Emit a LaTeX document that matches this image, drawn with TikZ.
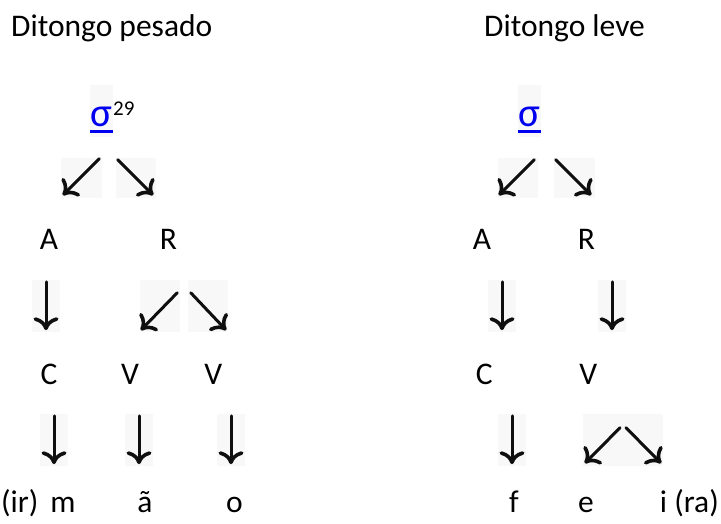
\documentclass[tikz,border=0pt]{standalone}
\usepackage{fontspec}
\setmainfont{Carlito}
\usetikzlibrary{arrows.meta,calc}
\definecolor{boxgray}{RGB}{248,248,248}
\definecolor{linkblue}{RGB}{0,0,240}
\definecolor{arrowink}{RGB}{15,15,15}
\begin{document}
\begin{tikzpicture}[x=1pt,y=-1pt,
  txt/.style={inner sep=0pt, anchor=base, font=\fontsize{31.5}{36}\selectfont},
  sig/.style={inner sep=0pt, anchor=base, text=linkblue, font=\fontsize{41}{44}\selectfont},
  supnum/.style={inner sep=0pt, anchor=base west, font=\fontsize{21}{24}\selectfont},
  abox/.style={fill=boxgray, draw=none, inner sep=0pt, minimum height=52pt},
  downbox/.style={abox, minimum width=28pt},
  diagbox/.style={abox, minimum width=40pt},
  smallbox/.style={abox, minimum width=40pt, minimum height=40pt},
  pairbox/.style={abox, minimum width=80pt},
  sigbox/.style={abox, minimum width=23pt},
  arr/.style={draw=arrowink, line width=3pt, line cap=round,
    -{Computer Modern Rightarrow[length=13pt 0,width=25pt 0,line width=3.6pt]}}
]
\useasboundingbox (0,0) rectangle (721,523);

% headings
\node[txt, anchor=base west] (h1) at (11,36) {Ditongo pesado};
\node[txt, anchor=base west] (h2) at (484,36) {Ditongo leve};

% sigma nodes
\node[sigbox] (sb1) at (101.5,111) {};
\node[sigbox] (sb2) at (529.3,111) {};
\node[sig] (s1) at (101.5,126.5) {σ};
\node[sig] (s2) at (529.3,126.5) {σ};
\fill[linkblue] (90,130) rectangle (113,133);
\fill[linkblue] (517.8,130) rectangle (540.8,133);
\node[supnum] (n29) at (113,115) {29};

% row 1 arrows
\node[smallbox, minimum width=41pt] (L1a) at (81.5,178) {};
\node[smallbox] (L1b) at (136,178) {};
\node[smallbox] (R1a) at (518,178) {};
\node[smallbox, minimum width=41pt] (R1b) at (574.5,178) {};
\draw[arr] ($(L1a.north east)+(-3,1)$) -- ($(L1a.south west)+(2,-3)$);
\draw[arr] ($(L1b.north west)+(2,2)$) -- ($(L1b.south east)+(-3,-3)$);
\draw[arr] ($(R1a.north east)+(-4,2)$) -- ($(R1a.south west)+(1,-3)$);
\draw[arr] ($(R1b.north west)+(2,2)$) -- ($(R1b.south east)+(-4,-3)$);

% A R
\node[txt] (A1) at (49,249) {A};
\node[txt] (R1) at (168.4,249) {R};
\node[txt] (A2) at (482,249) {A};
\node[txt] (R2) at (586.5,249) {R};

% row 2 arrows
\node[downbox] (L2a) at (46,306) {};
\node[diagbox] (L2b) at (160,306) {};
\node[diagbox] (L2c) at (208,306) {};
\node[downbox] (R2a) at (502,306) {};
\node[downbox] (R2b) at (612,306) {};
\draw[arr] ($(L2a.north)+(0,2)$) -- ($(L2a.south)+(0,-2)$);
\draw[arr] ($(L2b.north east)+(-3,13)$) -- ($(L2b.south west)+(1,-2)$);
\draw[arr] ($(L2c.north west)+(3,13)$) -- ($(L2c.south east)+(-2,-2)$);
\draw[arr] ($(R2a.north)+(0,2)$) -- ($(R2a.south)+(0,-2)$);
\draw[arr] ($(R2b.north)+(0,2)$) -- ($(R2b.south)+(0,-2)$);

% C V V
\node[txt] (C1) at (48.9,384.3) {C};
\node[txt] (V1) at (130,384.3) {V};
\node[txt] (V2) at (213.4,384.3) {V};
\node[txt] (C2) at (484.2,384.3) {C};
\node[txt] (V3) at (588.3,384.3) {V};

% row 3 arrows
\node[downbox] (L3a) at (54,440) {};
\node[downbox] (L3b) at (139,440) {};
\node[downbox] (L3c) at (231,440) {};
\node[downbox] (R3a) at (512,440) {};
\node[pairbox] (R3b) at (623,440) {};
\draw[arr] ($(L3a.north)+(0,2)$) -- ($(L3a.south)+(0,-2)$);
\draw[arr] ($(L3b.north)+(0,2)$) -- ($(L3b.south)+(0,-2)$);
\draw[arr] ($(L3c.north)+(0,2)$) -- ($(L3c.south)+(0,-2)$);
\draw[arr] ($(R3a.north)+(0,2)$) -- ($(R3a.south)+(0,-2)$);
\draw[arr] ($(R3b.north)+(-3,14)$) -- ($(R3b.south west)+(2,-3)$);
\draw[arr] ($(R3b.north)+(3,14)$) -- ($(R3b.south east)+(-2,-3)$);

% bottom words
\node[txt, anchor=base west] (w1) at (1,512) {(ir)\hspace{12pt}m};
\node[txt] (w2) at (145,512) {ã};
\node[txt] (w3) at (234.5,512) {o};
\node[txt] (w4) at (514,512) {f};
\node[txt] (w5) at (586,512) {e};
\node[txt, anchor=base east] (w6) at (719,512) {i (ra)};
\end{tikzpicture}
\end{document}
